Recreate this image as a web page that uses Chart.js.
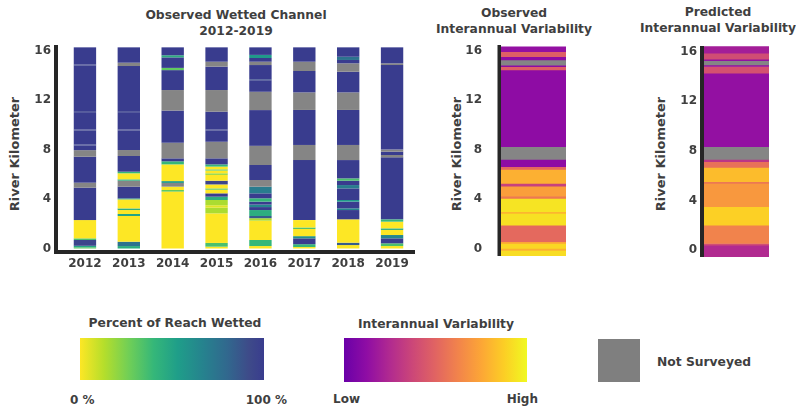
<!DOCTYPE html>
<html>
<head>
<meta charset="utf-8">
<script src="https://cdn.jsdelivr.net/npm/chart.js@4.4.1/dist/chart.umd.min.js"></script>
<style>
  html, body { margin: 0; padding: 0; background: #fff; }
  body { width: 796px; height: 409px; position: relative; overflow: hidden;
         font-family: "DejaVu Sans", sans-serif; font-weight: bold; color: #3f3f3f; }
  .abs { position: absolute; }
  .ttl { position: absolute; transform: translateX(-50%); text-align: center;
         line-height: 15.5px; font-size: 12.3px; white-space: nowrap; }
  .ylab { position: absolute; transform: translate(-50%, -50%) rotate(-90deg);
          font-size: 13px; white-space: nowrap; }
  .mid { position: absolute; transform: translate(-50%, -50%); white-space: nowrap; font-size: 12.3px; }
  .lbl { position: absolute; transform: translateY(-50%); white-space: nowrap; font-size: 12px; }
  canvas { position: absolute; }
</style>
</head>
<body>
  <div class="ttl" style="left:236px;top:8px">Observed Wetted Channel<br>2012-2019</div>
  <div class="ttl" style="left:514px;top:6px">Observed<br>Interannual Variability</div>
  <div class="ttl" style="left:718px;top:5px">Predicted<br>Interannual Variability</div>

  <div class="ylab" style="left:14px;top:154px">River Kilometer</div>
  <div class="ylab" style="left:456px;top:154px">River Kilometer</div>
  <div class="ylab" style="left:660px;top:154px">River Kilometer</div>

  <canvas id="wetted" width="425" height="285" style="left:0;top:0"></canvas>
  <canvas id="observed" width="140" height="285" style="left:440px;top:0"></canvas>
  <canvas id="predicted" width="150" height="285" style="left:640px;top:0"></canvas>

  <!-- colour keys -->
  <div class="mid" style="left:175px;top:323px">Percent of Reach Wetted</div>
  <div id="wetKey" class="abs" style="left:80px;top:338px;width:184px;height:42px"></div>
  <div class="lbl" style="left:70px;top:400px">0 %</div>
  <div class="lbl" style="right:509px;top:400px">100 %</div>

  <div class="mid" style="left:436px;top:324px">Interannual Variability</div>
  <div id="varKey" class="abs" style="left:344px;top:338px;width:183px;height:44px"></div>
  <div class="lbl" style="left:333px;top:399px">Low</div>
  <div class="lbl" style="right:258px;top:399px">High</div>

  <div class="abs" style="left:598px;top:339px;width:42px;height:43px;background:#7f7f7f"></div>
  <div class="lbl" style="left:657px;top:362px;font-size:12.3px">Not Surveyed</div>

<script>
// ---- data -------------------------------------------------------------
const years = ['2012', '2013', '2014', '2015', '2016', '2017', '2018', '2019'];
const kmTicks = [0, 4, 8, 12, 16];

// Reaches along the river: [from km, to km, percent of reach wetted]; null = not surveyed
const wetted2012 = [
  [14.87, 16.26, 100], [14.79, 14.87, 95], [11.10, 14.79, 100], [11.02, 11.10, 95],
  [9.62, 11.02, 100], [9.54, 9.62, 95], [8.41, 9.54, 100], [8.33, 8.41, 95],
  [7.95, 8.33, 100], [7.42, 7.95, null], [5.32, 7.42, 100], [4.92, 5.32, null],
  [2.30, 4.92, 100], [0.82, 2.30, 0], [0.69, 0.82, 35], [0.22, 0.69, 95],
  [0.10, 0.22, 50], [0, 0.10, 30]
];
const wetted2013 = [
  [15.02, 16.26, 100], [14.75, 15.02, null], [11.10, 14.75, 100], [11.02, 11.10, 95],
  [9.62, 11.02, 100], [9.54, 9.62, 95], [7.96, 9.54, 100], [7.48, 7.96, null],
  [6.21, 7.48, 100], [6.08, 6.21, 40], [5.59, 6.08, 0], [5.48, 5.59, 45],
  [5.00, 5.48, null], [4.05, 5.00, 100], [3.97, 4.05, 50], [3.24, 3.97, 0],
  [3.11, 3.24, 45], [2.79, 3.11, 0], [2.63, 2.79, 50], [0.55, 2.63, 0],
  [0.20, 0.55, 75], [0, 0.20, 45]
];
const wetted2014 = [
  [15.62, 16.26, 100], [15.45, 15.62, 45], [14.60, 15.45, 100], [14.42, 14.60, 30],
  [12.81, 14.42, 100], [11.15, 12.81, null], [8.55, 11.15, 100], [7.29, 8.55, null],
  [7.05, 7.29, 100], [6.80, 7.05, 40], [5.45, 6.80, 0], [5.30, 5.45, 55],
  [5.00, 5.30, null], [4.73, 5.00, 0], [4.60, 4.73, 30], [0, 4.60, 0]
];
const wetted2015 = [
  [15.10, 16.26, 100], [14.70, 15.10, null], [12.81, 14.70, 100], [11.06, 12.81, null],
  [9.62, 11.06, 100], [9.54, 9.62, 95], [8.63, 9.54, 100], [7.29, 8.63, null],
  [6.80, 7.29, 100], [6.62, 6.80, 40], [6.40, 6.62, 0], [6.30, 6.40, 30],
  [6.08, 6.30, 0], [5.95, 6.08, 20], [5.48, 5.95, 0], [5.18, 5.48, 95],
  [4.86, 5.18, 0], [4.75, 4.86, 30], [4.46, 4.75, 0], [4.19, 4.46, 100],
  [3.92, 4.19, 45], [3.50, 3.92, 15], [3.30, 3.50, 5], [2.84, 3.30, 15],
  [0.45, 2.84, 0], [0.15, 0.45, 35], [0, 0.15, 0]
];
const wetted2016 = [
  [15.65, 16.26, 100], [15.40, 15.65, 55], [15.10, 15.40, 100], [14.83, 15.10, null],
  [13.68, 14.83, 100], [13.60, 13.68, 88], [12.67, 13.60, 100], [11.19, 12.67, null],
  [8.30, 11.19, 100], [6.75, 8.30, null], [5.54, 6.75, 100], [5.00, 5.54, null],
  [4.46, 5.00, 70], [4.06, 4.46, 100], [3.79, 4.06, 40], [3.55, 3.79, 100],
  [3.35, 3.55, 65], [3.11, 3.35, 100], [2.63, 3.11, 45], [2.45, 2.63, 85],
  [2.25, 2.45, 15], [0.69, 2.25, 0], [0.20, 0.69, 40], [0, 0.20, 0]
];
const wetted2017 = [
  [15.10, 16.26, 100], [14.35, 15.10, null], [12.62, 14.35, 100], [11.20, 12.62, null],
  [8.37, 11.20, 100], [7.15, 8.37, null], [2.30, 7.15, 100], [1.70, 2.30, 0],
  [1.58, 1.70, 35], [1.00, 1.58, 0], [0.82, 1.00, 60], [0.35, 0.82, 100],
  [0.12, 0.35, 40], [0, 0.12, 0]
];
const wetted2018 = [
  [15.50, 16.26, 100], [15.24, 15.50, 75], [14.97, 15.24, 100], [14.29, 14.97, null],
  [12.62, 14.29, 100], [11.20, 12.62, null], [8.37, 11.20, 100], [7.15, 8.37, null],
  [5.67, 7.15, 100], [5.48, 5.67, 35], [5.13, 5.48, 100], [4.86, 5.13, 70],
  [3.92, 4.86, 100], [3.79, 3.92, 55], [3.25, 3.79, 100], [3.11, 3.25, 65],
  [2.36, 3.11, 100], [0.47, 2.36, 0], [0.28, 0.47, 85], [0, 0.28, 0]
];
const wetted2019 = [
  [14.97, 16.26, 100], [14.83, 14.97, null], [8.00, 14.83, 100], [7.83, 8.00, null],
  [7.56, 7.83, 100], [7.37, 7.56, null], [2.36, 7.37, 100], [2.17, 2.36, 40],
  [1.63, 2.17, 0], [1.50, 1.63, 45], [1.09, 1.50, 0], [0.82, 1.09, 65],
  [0.42, 0.82, 100], [0.20, 0.42, 35], [0, 0.20, 0]
];
const wettedByYear = [wetted2012, wetted2013, wetted2014, wetted2015,
                      wetted2016, wetted2017, wetted2018, wetted2019];

// Interannual variability along the river: [from km, to km, variability 0 (low) - 100 (high)]
const observedVariability = [
  [15.91, 16.30, 14], [15.51, 15.91, 48], [15.24, 15.51, 12], [14.83, 15.24, null],
  [14.70, 14.83, 12], [14.43, 14.70, 48], [8.23, 14.43, 12], [7.21, 8.23, null],
  [6.62, 7.21, 12], [6.40, 6.62, 52], [5.27, 6.40, 78], [5.05, 5.27, 35],
  [4.24, 5.05, 72], [4.06, 4.24, 58], [2.98, 4.06, 94], [2.84, 2.98, 80],
  [1.90, 2.84, 93], [0.55, 1.90, 52], [0.42, 0.55, 75], [0.02, 0.42, 90],
  [-0.15, 0.02, 78], [-0.60, -0.15, 92]
];
const predictedVariability = [
  [15.87, 16.40, 20], [15.39, 15.87, 40], [15.26, 15.39, 14], [14.93, 15.26, null],
  [14.80, 14.93, 14], [14.26, 14.80, 42], [8.34, 14.26, 14], [7.32, 8.34, null],
  [7.13, 7.32, 30], [6.67, 7.13, 55], [5.51, 6.67, 82], [5.38, 5.51, 58],
  [3.50, 5.38, 70], [2.02, 3.50, 88], [0.54, 2.02, 62], [0.40, 0.54, 40],
  [-0.54, 0.40, 25]
];

// ---- styling ----------------------------------------------------------
const FONT = '"DejaVu Sans", sans-serif';
const TEXT = '#3f3f3f';
const AXIS = '#262626';
const NOT_SURVEYED = '#858585';
const WETTED_RAMP = [[0, '#fde725'], [13, '#b5de2b'], [27, '#6ece58'], [40, '#35b779'],
  [53, '#1f9e89'], [67, '#26828e'], [80, '#31688e'], [92, '#3e4a89'], [100, '#393c8e']];
const VARIABILITY_RAMP = [[0, '#6a00a8'], [12.5, '#8f0da4'], [25, '#b12a90'], [37.5, '#cc4778'],
  [50, '#e16462'], [62.5, '#f2844b'], [75, '#fca636'], [87.5, '#fcce25'], [100, '#f0f921']];

function hexRgb(h) { return [1, 3, 5].map(i => parseInt(h.slice(i, i + 2), 16)); }
function rampColor(ramp, v) {
  if (v === null) return NOT_SURVEYED;
  for (let i = 1; i < ramp.length; i++) {
    if (v <= ramp[i][0]) {
      const [a, ca] = ramp[i - 1], [b, cb] = ramp[i];
      const t = (v - a) / (b - a);
      const p = hexRgb(ca), q = hexRgb(cb);
      return 'rgb(' + p.map((x, k) => Math.round(x + (q[k] - x) * t)).join(',') + ')';
    }
  }
  return ramp[ramp.length - 1][1];
}
function cssGradient(ramp) {
  return 'linear-gradient(to right, ' + ramp.map(([v, c]) => c + ' ' + v + '%').join(', ') + ')';
}
document.getElementById('wetKey').style.background = cssGradient(WETTED_RAMP);
document.getElementById('varKey').style.background = cssGradient(VARIABILITY_RAMP);

// one floating-bar dataset per reach index, overlapping in the same column
function reachDatasets(columns, ramp, barPct) {
  const n = Math.max(...columns.map(c => c.length));
  const sets = [];
  for (let k = 0; k < n; k++) {
    sets.push({
      data: columns.map(c => c[k] ? [c[k][0], c[k][1]] : null),
      backgroundColor: columns.map(c => c[k] ? rampColor(ramp, c[k][2]) : 'rgba(0,0,0,0)'),
      borderWidth: 0,
      grouped: false,
      barPercentage: barPct,
      categoryPercentage: 1
    });
  }
  return sets;
}

// thick axis lines drawn just outside the plotting area
const axisFrame = {
  id: 'axisFrame',
  afterDraw(chart, args, o) {
    const { ctx, chartArea: a } = chart;
    const x0 = a.left - o.gap - o.width;
    ctx.save();
    ctx.fillStyle = AXIS;
    ctx.fillRect(x0, a.top, o.width, a.bottom - a.top + (o.base ? o.baseWidth : 0));
    if (o.base) ctx.fillRect(x0, a.bottom, a.right - x0 + o.extend, o.baseWidth);
    ctx.restore();
  }
};

function yAxis(min, max, width, pad) {
  return {
    min: min, max: max,
    afterBuildTicks: s => { s.ticks = kmTicks.map(v => ({ value: v })); },
    afterFit: s => { s.width = width; },
    grid: { display: false, drawTicks: false },
    border: { display: false },
    ticks: { font: { family: FONT, size: 12, weight: 'bold' }, color: TEXT, padding: pad }
  };
}

const common = {
  responsive: false,
  animation: false,
  events: [],
  plugins: { legend: { display: false }, tooltip: { enabled: false } }
};

new Chart(document.getElementById('wetted'), {
  type: 'bar',
  data: { labels: years, datasets: reachDatasets(wettedByYear, WETTED_RAMP, 0.51) },
  options: Object.assign({}, common, {
    layout: { padding: { left: 0, top: 45, right: 11, bottom: 0 } },
    scales: {
      x: {
        grid: { display: false, drawTicks: false },
        border: { display: false },
        ticks: { font: { family: FONT, size: 12, weight: 'bold' }, color: TEXT, padding: 7,
                 maxRotation: 0, autoSkip: false },
        afterFit: s => { s.height = 35; }
      },
      y: yAxis(-0.12, 16.45, 63, 12)
    },
    plugins: Object.assign({}, common.plugins,
      { axisFrame: { gap: 5, width: 4, base: true, baseWidth: 4, extend: 1 } })
  }),
  plugins: [axisFrame]
});

function variabilityChart(id, reaches, min, pad) {
  new Chart(document.getElementById(id), {
    type: 'bar',
    data: { labels: [''], datasets: reachDatasets([reaches], VARIABILITY_RAMP, 1) },
    options: Object.assign({}, common, {
      layout: { padding: pad.layout },
      scales: {
        x: { display: false },
        y: yAxis(min, 16.45, pad.axisWidth, pad.tick)
      },
      plugins: Object.assign({}, common.plugins,
        { axisFrame: { gap: 0, width: pad.line, base: false } })
    }),
    plugins: [axisFrame]
  });
}
variabilityChart('observed', observedVariability, -0.6,
  { layout: { left: 0, top: 45, right: 14, bottom: 29 }, axisWidth: 61, tick: 19, line: 3.5 });
variabilityChart('predicted', predictedVariability, -0.55,
  { layout: { left: 0, top: 46, right: 21, bottom: 28 }, axisWidth: 64, tick: 7, line: 4 });
</script>
</body>
</html>
